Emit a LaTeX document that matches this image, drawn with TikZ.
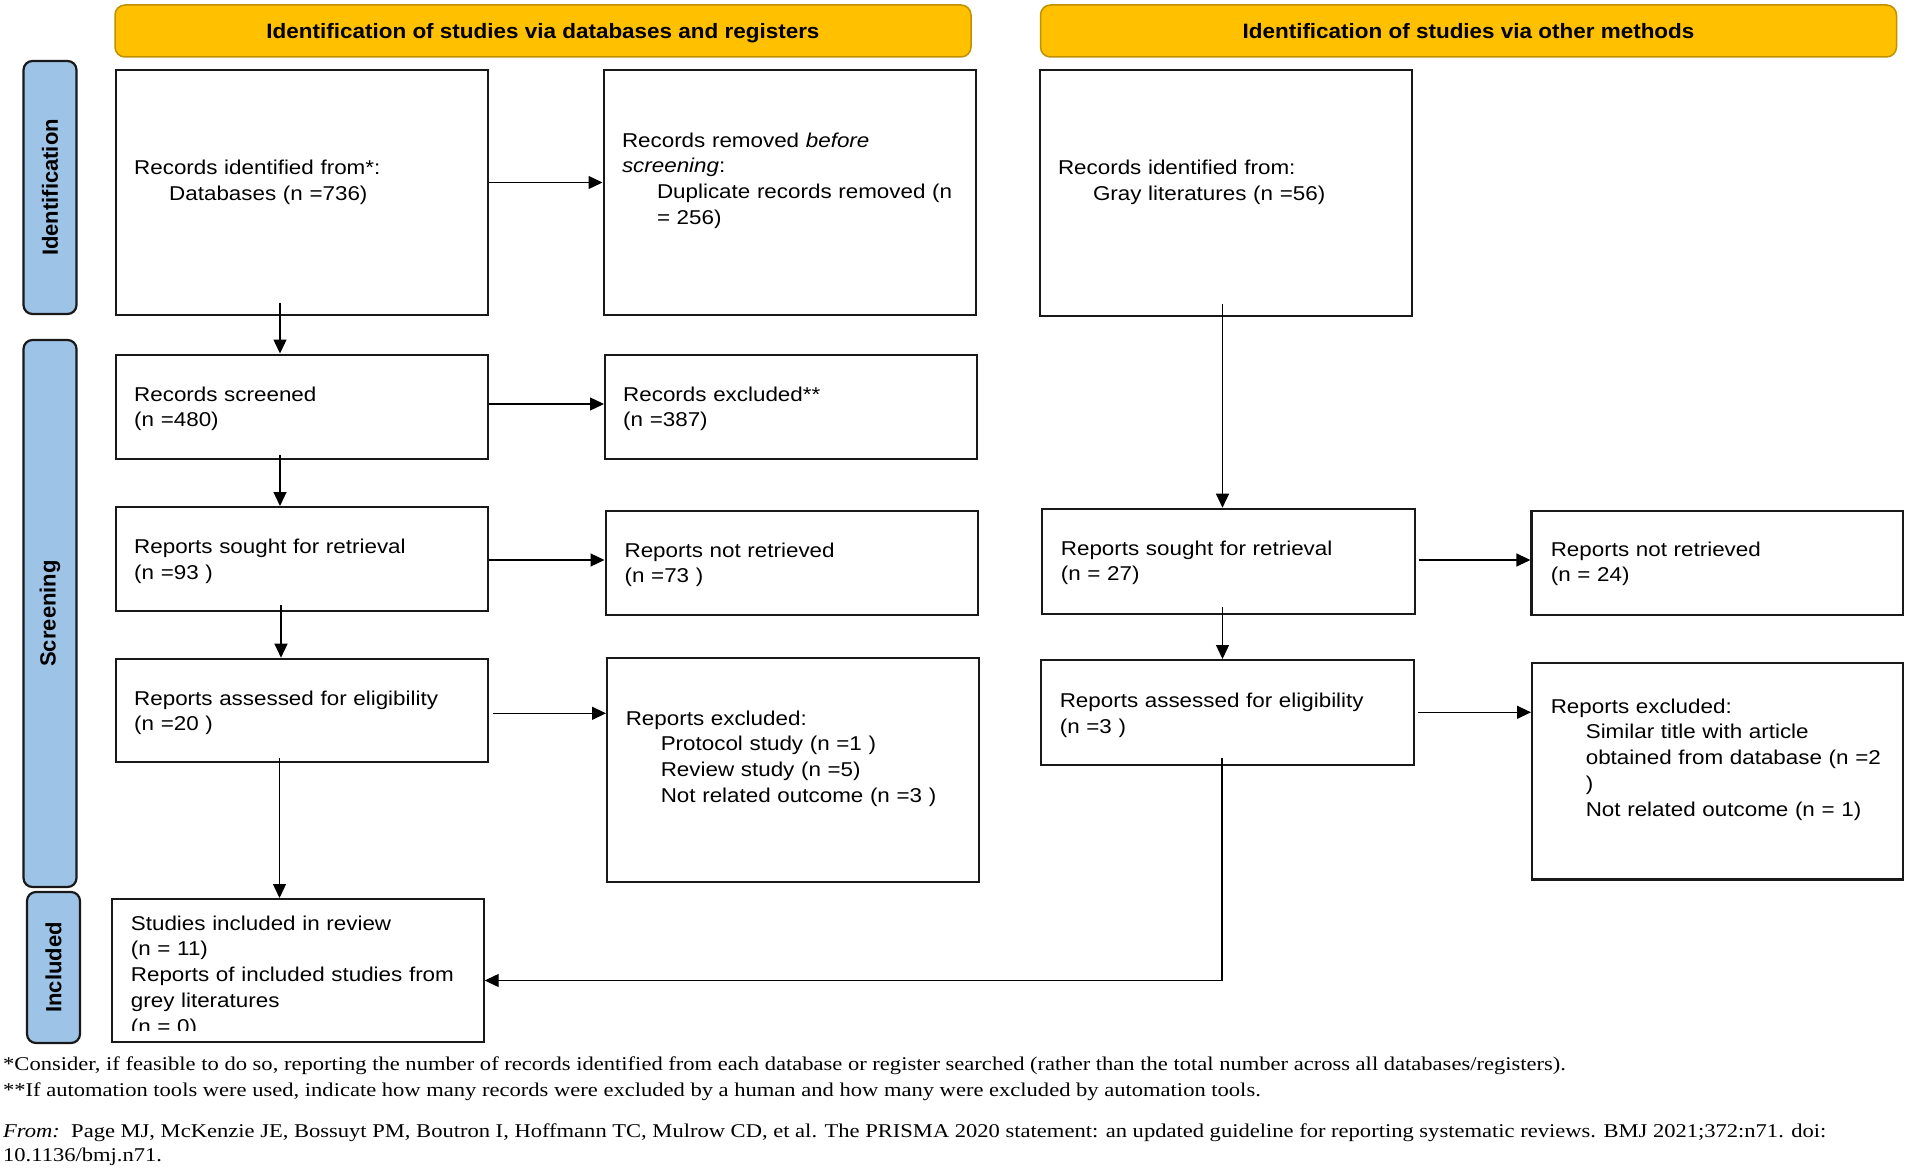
\documentclass[tikz,border=0pt]{standalone}
\usepackage{fontspec}
\newfontfamily\boxfont[FakeStretch=1.12]{Liberation Sans}
\newfontfamily\hdrfont[FakeStretch=1.08]{Liberation Sans}
\newfontfamily\sidefont{Liberation Sans}
\newfontfamily\footfont[FakeStretch=1.156]{Liberation Serif}
\usetikzlibrary{arrows.meta,calc}
\definecolor{hdrfill}{HTML}{FFC000}
\definecolor{hdrdraw}{HTML}{BF9000}
\definecolor{sidefill}{HTML}{9DC3E6}
\tikzset{
  box/.style={draw=black!90, line width=2.2pt, fill=white, inner sep=0pt, anchor=north west},
  hdr/.style={draw=hdrdraw, line width=1.5pt, fill=hdrfill, rounded corners=10pt, inner sep=0pt,
    text height=20pt, text depth=4.5pt,
    font=\hdrfont\bfseries\fontsize{20.8pt}{25pt}\selectfont},
  side/.style={draw=black!90, line width=2.2pt, fill=sidefill, rounded corners=9pt, inner sep=0pt,
    font=\sidefont\bfseries\fontsize{22pt}{26pt}\selectfont},
  txt/.style={inner sep=0pt, anchor=base west, align=left, text width=360pt,
    font=\boxfont\fontsize{20pt}{25.9pt}\selectfont},
  foot/.style={inner sep=0pt, anchor=base west, font=\footfont\fontsize{19.5pt}{25pt}\selectfont},
  arr/.style={draw=black, line width=1.3pt, -{Triangle[length=14pt,width=13pt]}}
}
\newcommand\ind{\hspace*{35pt}}
\begin{document}
\begin{tikzpicture}[x=1pt,y=-1pt]
\useasboundingbox (0,0) rectangle (1907,1172);
\fill[white] (0,0) rectangle (1907,1172);

% headers
\node[hdr, minimum width=856pt, minimum height=52pt] (h1) at (543,31) {Identification of studies via databases and registers};
\node[hdr, minimum width=856pt, minimum height=52pt] (h2) at (1468.5,31) {Identification of studies via other methods};

% side bars
\node[side, minimum width=53pt, minimum height=253pt] (s1) at (50,187.5) {\rotatebox{90}{Identification}};
\node[side, minimum width=53pt, minimum height=547pt] (s2) at (50,613.5) {\rotatebox{90}{Screening}};
\node[side, minimum width=53pt, minimum height=151pt] (s3) at (53.5,967.5) {\rotatebox{90}{Included}};

% boxes
\node[box, minimum width=372pt, minimum height=245pt] (A) at (114.5,69) {};
\node[box, minimum width=372pt, minimum height=245pt] (B) at (602.5,69) {};
\node[box, minimum width=372pt, minimum height=246pt] (C) at (1039,69) {};
\node[box, minimum width=372pt, minimum height=104pt] (D) at (114.5,353.5) {};
\node[box, minimum width=372pt, minimum height=104pt] (E) at (604,353.5) {};
\node[box, minimum width=372pt, minimum height=104pt] (F) at (114.5,506) {};
\node[box, minimum width=372pt, minimum height=104pt] (G) at (604.5,510) {};
\node[box, minimum width=372pt, minimum height=103.5pt] (H) at (114.5,657.7) {};
\node[box, minimum width=372pt, minimum height=223.7pt] (I) at (606,657) {};
\node[box, minimum width=372pt, minimum height=143pt] (J) at (110.5,898) {};
\node[box, minimum width=373pt, minimum height=105pt] (K) at (1040.5,507.7) {};
\node[box, minimum width=371.6pt, minimum height=104.5pt] (L) at (1530.4,509.5) {};
\node[box, minimum width=373pt, minimum height=105pt] (M) at (1040,659) {};
\node[box, minimum width=371pt, minimum height=216.6pt] (N) at (1531,661.7) {};

% box texts
\node[txt] (tA) at (134,174.3) {Records identified from*:\\\ind Databases (n =736)};
\node[txt] (tB) at (621.8,147) {Records removed \textit{before}\\\textit{screening}:\\\ind Duplicate records removed (n\\\ind = 256)};
\node[txt] (tC) at (1057.8,174.3) {Records identified from:\\\ind Gray literatures (n =56)};
\node[txt] (tD) at (134,401) {Records screened\\(n =480)};
\node[txt] (tE) at (623,401) {Records excluded**\\(n =387)};
\node[txt] (tF) at (134,553.3) {Reports sought for retrieval\\(n =93 )};
\node[txt] (tG) at (624.4,557) {Reports not retrieved\\(n =73 )};
\node[txt] (tH) at (134,705) {Reports assessed for eligibility\\(n =20 )};
\node[txt] (tI) at (625.6,725) {Reports excluded:\\\ind Protocol study (n =1 )\\\ind Review study (n =5)\\\ind Not related outcome (n =3 )};
\begin{scope}
\clip (112,899) rectangle (481,1030);
\node[txt] (tJ) at (130.7,930) {Studies included in review\\(n = 11)\\Reports of included studies from\\grey literatures\\(n = 0)};
\end{scope}
\node[txt] (tK) at (1060.7,555) {Reports sought for retrieval\\(n = 27)};
\node[txt] (tL) at (1550.6,556) {Reports not retrieved\\(n = 24)};
\node[txt] (tM) at (1059.6,707.7) {Reports assessed for eligibility\\(n =3 )};
\node[txt] (tN) at (1550.6,713) {Reports excluded:\\\ind Similar title with article\\\ind obtained from database (n =2\\\ind )\\\ind Not related outcome (n = 1)};

% connectors
\draw[arr] ($(A.south -| 280,0)+(0,-13)$) -- (D.north -| 280,0);
\draw[arr] (A.east |- 0,182.5) -- (B.west |- 0,182.5);
\draw[arr] (D.east |- 0,404) -- (E.west |- 0,404);
\draw[arr] ($(D.south -| 280,0)+(0,-4.5)$) -- (F.north -| 280,0);
\draw[arr] (F.east |- 0,560) -- (G.west |- 0,560);
\draw[arr] ($(F.south -| 281,0)+(0,-7)$) -- (H.north -| 281,0);
\draw[arr] ($(H.east |- 0,713.3)+(4,0)$) -- (I.west |- 0,713.3);
\draw[arr] ($(H.south -| 279.5,0)+(0,-5)$) -- (J.north -| 279.5,0);
\draw[arr] ($(C.south -| 1222.5,0)+(0,-13)$) -- (K.north -| 1222.5,0);
\draw[arr] ($(K.east |- 0,560)+(3,0)$) -- (L.west |- 0,560);
\draw[arr] ($(K.south -| 1222.5,0)+(0,-8)$) -- (M.north -| 1222.5,0);
\draw[arr] ($(M.east |- 0,712.3)+(3,0)$) -- (N.west |- 0,712.3);
\draw[arr] ($(M.south -| 1222,0)+(0,-8)$) |- (J.east |- 0,980.5);

% footnotes
\node[foot] (f1) at (3,1070.5) {*Consider, if feasible to do so, reporting the number of records identified from each database or register searched (rather than the total number across all databases/registers).};
\node[foot] (f2) at (3,1096) {**If automation tools were used, indicate how many records were excluded by a human and how many were excluded by automation tools.};
\node[foot] (f3) at (3,1137) {\textit{From:}\ \ Page MJ, McKenzie JE, Bossuyt PM, Boutron I, Hoffmann TC, Mulrow CD, et al. The PRISMA 2020 statement: an updated guideline for reporting systematic reviews. BMJ 2021;372:n71. doi:};
\node[foot] (f4) at (3,1161.7) {10.1136/bmj.n71.};
\end{tikzpicture}
\end{document}
